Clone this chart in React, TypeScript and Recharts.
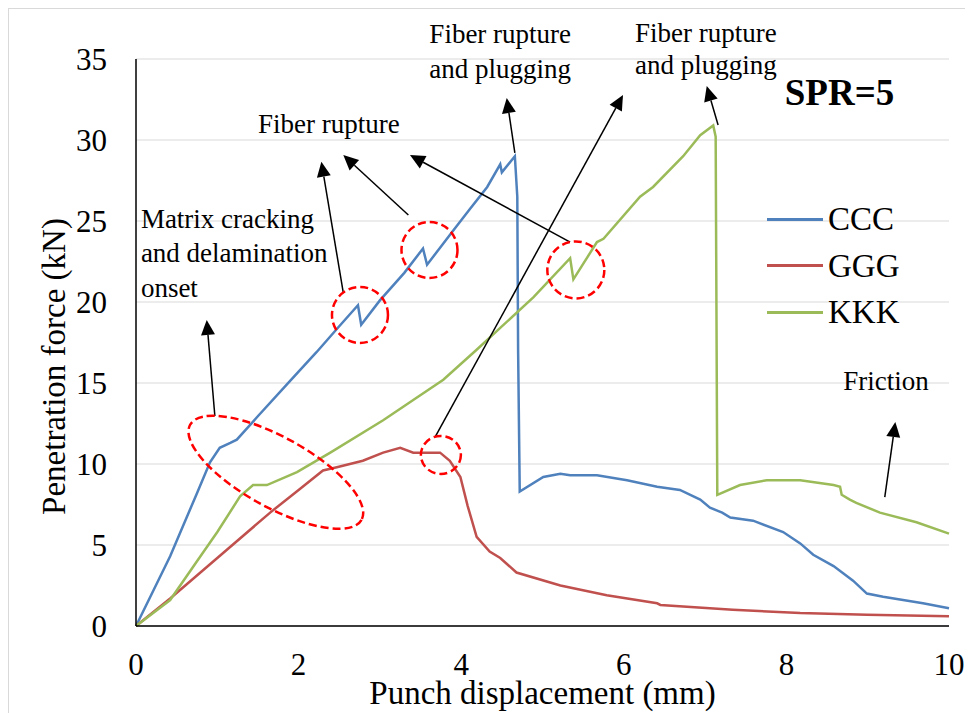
import React from "react";
import {
  LineChart,
  Line,
  XAxis,
  YAxis,
  CartesianGrid,
  ReferenceDot,
  ReferenceLine,
} from "recharts";

// punch displacement (mm), penetration force (kN)
const CCC: [number, number][] = [
  [0, 0], [0.42, 4.3], [0.75, 8.2], [0.91, 10.1], [1.03, 11.0], [1.16, 11.3],
  [1.24, 11.5], [1.49, 12.9], [1.89, 15.1], [2.22, 16.9], [2.5, 18.5],
  [2.73, 19.8], [2.77, 18.6], [3.0, 20.1], [3.3, 21.8], [3.53, 23.3],
  [3.58, 22.3], [3.9, 24.4], [4.1, 25.7], [4.32, 27.1], [4.48, 28.5],
  [4.5, 28.0], [4.66, 29.0], [4.69, 26.5], [4.7, 17.0], [4.72, 8.3],
  [5.01, 9.2], [5.22, 9.4], [5.34, 9.3], [5.67, 9.3], [6.04, 9.0],
  [6.41, 8.6], [6.69, 8.4], [6.94, 7.8], [7.06, 7.3], [7.21, 7.0],
  [7.31, 6.7], [7.59, 6.5], [7.96, 5.8], [8.17, 5.1], [8.33, 4.4],
  [8.58, 3.7], [8.82, 2.8], [8.99, 2.0], [9.19, 1.8], [9.68, 1.4], [10.0, 1.1],
];

const GGG: [number, number][] = [
  [0, 0], [0.42, 1.7], [1.0, 4.2], [1.65, 7.0], [2.0, 8.4], [2.3, 9.6],
  [2.47, 9.8], [2.79, 10.2], [3.04, 10.7], [3.25, 11.0], [3.41, 10.7],
  [3.74, 10.7], [3.86, 10.2], [3.99, 9.2], [4.08, 7.4], [4.19, 5.5],
  [4.35, 4.6], [4.48, 4.2], [4.68, 3.3], [5.22, 2.5], [5.79, 1.9],
  [6.41, 1.4], [6.45, 1.3], [7.34, 1.0], [8.17, 0.8], [8.99, 0.7], [10.0, 0.6],
];

const KKK: [number, number][] = [
  [0, 0], [0.42, 1.6], [0.75, 4.0], [1.0, 5.8], [1.28, 8.0], [1.44, 8.7],
  [1.61, 8.7], [1.98, 9.5], [2.39, 10.7], [3.04, 12.7], [3.78, 15.2],
  [4.2, 17.1], [4.48, 18.4], [4.89, 20.3], [5.34, 22.7], [5.38, 21.4],
  [5.67, 23.7], [5.75, 23.9], [6.2, 26.5], [6.36, 27.1], [6.73, 29.0],
  [6.94, 30.3], [7.1, 30.9], [7.13, 30.2], [7.15, 8.1], [7.43, 8.7],
  [7.76, 9.0], [8.17, 9.0], [8.58, 8.7], [8.66, 8.6], [8.68, 8.1],
  [8.78, 7.8], [8.86, 7.6], [9.15, 7.0], [9.6, 6.4], [10.0, 5.7],
];

const X_TICKS = [0, 2, 4, 6, 8, 10];
const Y_TICKS = [0, 5, 10, 15, 20, 25, 30, 35];

const SERIES = [
  { name: "CCC", color: "#4F81BD", points: CCC },
  { name: "GGG", color: "#C0504D", points: GGG },
  { name: "KKK", color: "#9BBB59", points: KKK },
];

// arrows: tail x, tail y, tip x, tip y (data units)
const ARROWS: [number, number, number, number][] = [
  [2.55, 20.56, 2.28, 28.66],
  [3.35, 25.37, 2.55, 29.07],
  [5.34, 23.7, 3.37, 29.07],
  [0.97, 12.96, 0.87, 18.89],
  [4.66, 29.2, 4.56, 32.59],
  [3.68, 11.67, 5.99, 32.78],
  [7.16, 30.93, 7.02, 33.33],
  [9.21, 7.96, 9.34, 12.59],
];

// dashed red rings around events
const RINGS = [
  { x: 2.755, y: 19.2, rx: 28, ry: 28, angle: 0 },
  { x: 3.61, y: 23.21, rx: 28, ry: 28, angle: 0 },
  { x: 5.41, y: 21.98, rx: 28.5, ry: 28.5, angle: 0 },
  { x: 3.75, y: 10.56, rx: 20, ry: 19, angle: 0 },
  { x: 1.72, y: 9.49, rx: 98, ry: 35, angle: 29 },
];

const NOTES = [
  { x: 4.48, y: 35.99, lines: ["Fiber rupture", "and plugging"], anchor: "middle", lh: 35 },
  { x: 7.01, y: 36.05, lines: ["Fiber rupture", "and plugging"], anchor: "middle", lh: 32 },
  { x: 1.5, y: 30.43, lines: ["Fiber rupture"], anchor: "start", lh: 0 },
  { x: 0.06, y: 24.57, lines: ["Matrix cracking", "and delamination", "onset"], anchor: "start", lh: 34.5 },
  { x: 8.7, y: 14.57, lines: ["Friction"], anchor: "start", lh: 0 },
];

const SERIF = "Liberation Serif, Times New Roman, serif";

const Arrow = (props: any) => {
  const { x1, y1, x2, y2 } = props;
  const dx = x2 - x1;
  const dy = y2 - y1;
  const len = Math.hypot(dx, dy) || 1;
  const ux = dx / len;
  const uy = dy / len;
  const hl = 15;
  const hw = 7;
  const bx = x2 - ux * hl;
  const by = y2 - uy * hl;
  return (
    <g>
      <line x1={x1} y1={y1} x2={bx} y2={by} stroke="#000" strokeWidth={1.5} />
      <polygon
        points={`${x2},${y2} ${bx - uy * hw},${by + ux * hw} ${bx + uy * hw},${by - ux * hw}`}
        fill="#000"
      />
    </g>
  );
};

export default function App() {
  return (
    <div
      style={{
        position: "relative",
        width: 956,
        height: 704,
        borderTop: "1px solid #d9d9d9",
        borderLeft: "1px solid #d9d9d9",
        fontFamily: SERIF,
      }}
    >
      <style>{"body{overflow:hidden}"}</style>
      <LineChart
        width={956}
        height={704}
        margin={{ top: 50, right: 16, left: 0, bottom: 0 }}
        style={{ fontFamily: SERIF }}
      >
        <CartesianGrid vertical={false} stroke="#d9d9d9" strokeWidth={1.2} />
        <XAxis
          dataKey="x"
          type="number"
          domain={[0, 10]}
          ticks={X_TICKS}
          height={87}
          tickLine={false}
          tickSize={0}
          tickMargin={27}
          axisLine={{ stroke: "#000", strokeWidth: 1.5 }}
          tick={{ fill: "#000", fontSize: 31, fontFamily: SERIF }}
          label={{
            value: "Punch displacement (mm)",
            position: "center",
            dy: 23,
            style: { fill: "#000", fontSize: 33, fontFamily: SERIF },
          }}
        />
        <YAxis
          type="number"
          domain={[0, 35]}
          ticks={Y_TICKS}
          width={127}
          tickLine={false}
          tickSize={0}
          tickMargin={29}
          axisLine={{ stroke: "#000", strokeWidth: 1.5 }}
          tick={{ fill: "#000", fontSize: 31, fontFamily: SERIF }}
          label={{
            value: "Penetration force (kN)",
            angle: -90,
            position: "center",
            dx: -19,
            dy: 24,
            style: { fill: "#000", fontSize: 33, fontFamily: SERIF },
          }}
        />
        {SERIES.map((s) => (
          <Line
            key={s.name}
            name={s.name}
            data={s.points.map(([x, y]) => ({ x, y }))}
            dataKey="y"
            type="linear"
            stroke={s.color}
            strokeWidth={2.5}
            dot={false}
            activeDot={false}
            isAnimationActive={false}
          />
        ))}
        {RINGS.map((r, i) => (
          <ReferenceDot
            key={`ring-${i}`}
            x={r.x}
            y={r.y}
            ifOverflow="visible"
            shape={(p: any) => (
              <ellipse
                cx={p.cx}
                cy={p.cy}
                rx={r.rx}
                ry={r.ry}
                transform={`rotate(${r.angle} ${p.cx} ${p.cy})`}
                fill="none"
                stroke="#ff0000"
                strokeWidth={2.5}
                strokeDasharray="8 4"
              />
            )}
          />
        ))}
        {ARROWS.map(([tx, ty, hx, hy], i) => (
          <ReferenceLine
            key={`arrow-${i}`}
            segment={[
              { x: tx, y: ty },
              { x: hx, y: hy },
            ]}
            ifOverflow="visible"
            shape={Arrow}
          />
        ))}
        {NOTES.map((n, i) => (
          <ReferenceDot
            key={`note-${i}`}
            x={n.x}
            y={n.y}
            ifOverflow="visible"
            shape={(p: any) => (
              <text
                x={p.cx}
                y={p.cy}
                textAnchor={n.anchor}
                fontFamily={SERIF}
                fontSize={27}
                fill="#000"
              >
                {n.lines.map((l, j) => (
                  <tspan key={j} x={p.cx} dy={j === 0 ? 0 : n.lh}>
                    {l}
                  </tspan>
                ))}
              </text>
            )}
          />
        ))}
        <ReferenceDot
          x={7.98}
          y={32.16}
          ifOverflow="visible"
          shape={(p: any) => (
            <text
              x={p.cx}
              y={p.cy}
              fontFamily={SERIF}
              fontSize={37}
              fontWeight="bold"
              fill="#000"
            >
              SPR=5
            </text>
          )}
        />
      </LineChart>
      {SERIES.map((s, i) => (
        <div
          key={s.name}
          style={{
            position: "absolute",
            left: 758,
            top: 190 + i * 46.5,
            height: 40,
            display: "flex",
            alignItems: "center",
            fontFamily: SERIF,
            fontSize: 33,
            lineHeight: "40px",
            color: "#000",
          }}
        >
          <span
            style={{
              display: "inline-block",
              width: 56,
              height: 3,
              background: s.color,
              marginRight: 5,
            }}
          />
          {s.name}
        </div>
      ))}
    </div>
  );
}
